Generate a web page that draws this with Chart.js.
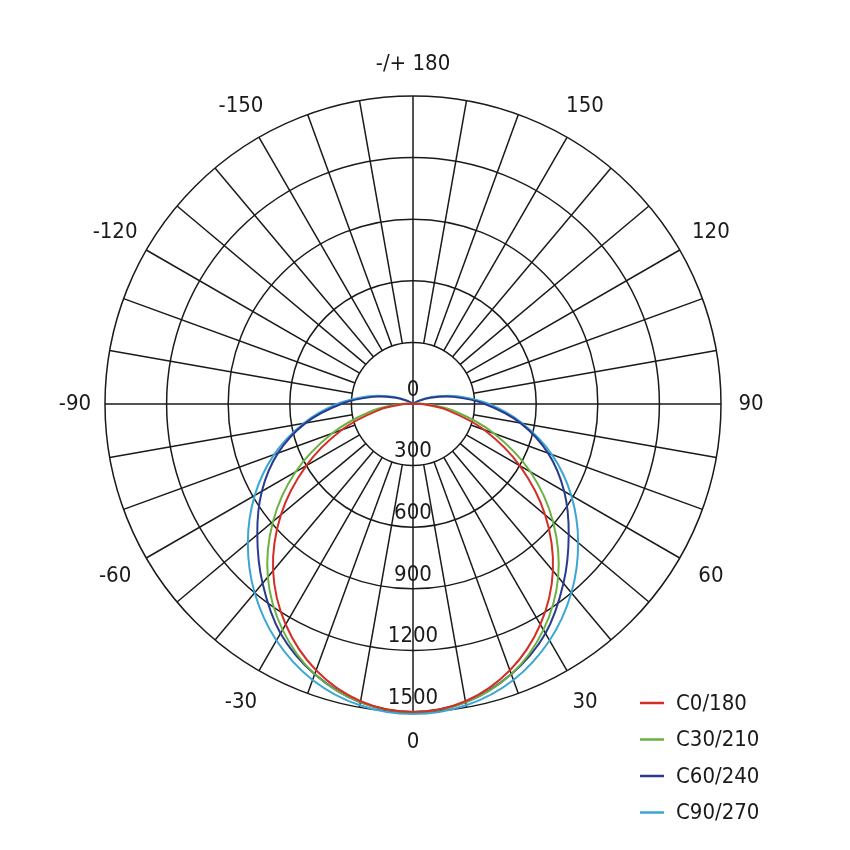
<!DOCTYPE html>
<html><head><meta charset="utf-8">
<script src="https://cdn.jsdelivr.net/npm/chart.js@4/dist/chart.umd.min.js"></script>
<style>body{margin:0;background:#fff}canvas{display:block}</style>
</head><body>
<canvas id="c" width="850" height="850"></canvas>
<script>
const angles = [0,10,20,30,40,50,60,70,80,90,100,110,120,130];
const c0 = [1500,1470,1380,1240,1060,840,600,370,170,40,0,0,0,0];
const c30 = [1500,1475,1400,1270,1100,890,660,420,210,60,10,0,0,0];
const c60 = [1500,1475,1400,1290,1140,990,850,700,530,350,200,90,25,0];
const c90 = [1510,1490,1430,1330,1200,1050,890,720,540,370,220,105,35,0];
const seriesNames = ["C0/180","C30/210","C60/240","C90/270"];
const seriesColors = ["#d22f27","#6cb243","#2a3a8f","#3aa6d6"];
const ringValues = [0,300,600,900,1200,1500];
const angleLabels = [[0,"0"],[30,"30"],[60,"60"],[90,"90"],[120,"120"],[150,"150"],[180,"-/+ 180"],[-150,"-150"],[-120,"-120"],[-90,"-90"],[-60,"-60"],[-30,"-30"]];
const FONT = "'DejaVu Sans Condensed','DejaVu Sans',sans-serif";

function toPoints(vals){
  const pts=[];
  for(let i=angles.length-1;i>=0;i--){const a=-angles[i]*Math.PI/180;pts.push({x:vals[i]*Math.sin(a),y:-vals[i]*Math.cos(a)});}
  for(let i=1;i<angles.length;i++){const a=angles[i]*Math.PI/180;pts.push({x:vals[i]*Math.sin(a),y:-vals[i]*Math.cos(a)});}
  return pts;
}
const allVals=[c0,c30,c60,c90];
const datasets = allVals.map((v,i)=>({label:seriesNames[i],data:toPoints(v),borderColor:seriesColors[i],backgroundColor:seriesColors[i],showLine:true,pointRadius:0,borderWidth:2,tension:0.35,clip:false}));

const grid={id:'grid',
 beforeDatasetsDraw(ch){
  const ctx=ch.ctx,xs=ch.scales.x,ys=ch.scales.y;
  const cx=xs.getPixelForValue(0),cy=ys.getPixelForValue(0);
  const R=v=>xs.getPixelForValue(v)-cx;
  ctx.save();ctx.strokeStyle='#1a1a1a';ctx.lineWidth=1.5;
  ringValues.slice(1).forEach(v=>{ctx.beginPath();ctx.arc(cx,cy,R(v),0,Math.PI*2);ctx.stroke();});
  const r0=R(ringValues[1]),r1=R(ringValues[ringValues.length-1]);
  for(let d=0;d<360;d+=10){
    const a=d*Math.PI/180;const inner=(d%90===0)?0:r0;
    ctx.beginPath();ctx.moveTo(cx+inner*Math.sin(a),cy+inner*Math.cos(a));ctx.lineTo(cx+r1*Math.sin(a),cy+r1*Math.cos(a));ctx.stroke();
  }
  ctx.restore();
 },
 afterDraw(ch){
  const ctx=ch.ctx,xs=ch.scales.x,ys=ch.scales.y;
  const cx=xs.getPixelForValue(0),cy=ys.getPixelForValue(0);
  const R=v=>xs.getPixelForValue(v)-cx;
  ctx.save();ctx.fillStyle='#1a1a1a';ctx.font='22px '+FONT;ctx.textAlign='center';ctx.textBaseline='middle';
  ringValues.forEach(v=>{ctx.fillText(String(v),cx,cy+R(v)-14);});
  const rl=R(ringValues[ringValues.length-1])+36;
  angleLabels.forEach(([d,t])=>{const a=d*Math.PI/180;const rr=d===180?rl-4:(d===0?rl-6:(Math.abs(d)===90?rl-6:rl));ctx.fillText(t,cx+rr*Math.sin(a),cy+rr*Math.cos(a));});
  ctx.textAlign='left';
  seriesNames.forEach((n,i)=>{const y=703+i*36.5;ctx.strokeStyle=seriesColors[i];ctx.lineWidth=2.5;ctx.beginPath();ctx.moveTo(640,y);ctx.lineTo(664,y);ctx.stroke();ctx.fillStyle='#1a1a1a';ctx.fillText(n,676,y+1);});
  ctx.restore();
 }};

new Chart(document.getElementById('c'),{type:'scatter',data:{datasets},
 options:{responsive:false,animation:false,maintainAspectRatio:false,
  layout:{padding:{left:105,right:129,top:96,bottom:138}},
  plugins:{legend:{display:false},tooltip:{enabled:false}},
  scales:{x:{type:'linear',min:-1500,max:1500,display:false},y:{type:'linear',min:-1500,max:1500,display:false}}},
 plugins:[grid]});
</script></body></html>
